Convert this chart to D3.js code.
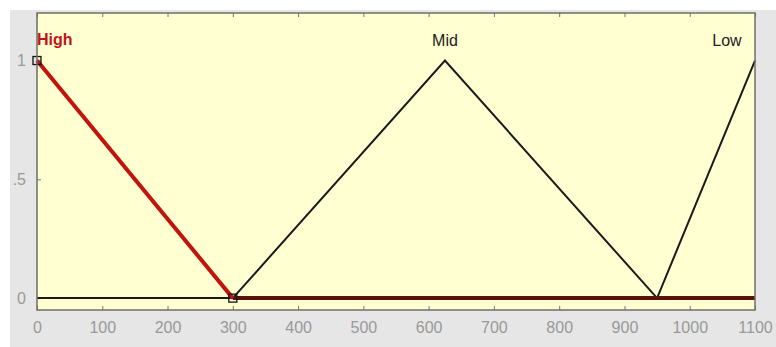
<!DOCTYPE html>
<html>
<head>
<meta charset="utf-8">
<script src="https://cdn.jsdelivr.net/npm/d3@7"></script>
<style>
  body { margin: 0; background: #fff; }
  svg { display: block; font-family: "Liberation Sans", Arial, sans-serif; }
</style>
</head>
<body>
<div id="chart"></div>
<script>
// membership functions (x, degree)
const mfNames = ['High', 'Mid', 'Low'];
const highPts = [[0, 1], [300, 0], [1100, 0]];
const midPts = [[0, 0], [300, 0], [625, 1], [950, 0], [1100, 0]];
const lowPts = [[0, 0], [950, 0], [1100, 1]];
const xTicks = [0, 100, 200, 300, 400, 500, 600, 700, 800, 900, 1000, 1100];
const yTicks = [0, 0.5, 1];
const yTickLabels = ['0', '.5', '1'];
const handlePts = [[0, 1], [300, 0]];

const dims = { width: 776, height: 347, margin: { top: 13, right: 21, bottom: 37, left: 37 } };
dims.ctrWidth = dims.width - dims.margin.left - dims.margin.right;
dims.ctrHeight = dims.height - dims.margin.top - dims.margin.bottom;

const svg = d3.select('#chart').append('svg')
  .attr('width', dims.width)
  .attr('height', dims.height);

// grey figure background
svg.append('rect')
  .attr('x', 10).attr('y', 10)
  .attr('width', dims.width - 10).attr('height', dims.height - 10)
  .attr('fill', '#e6e6e6');

const ctr = svg.append('g')
  .attr('transform', `translate(${dims.margin.left},${dims.margin.top})`);

const xScale = d3.scaleLinear().domain([0, 1100]).range([0, dims.ctrWidth]);
const yScale = d3.scaleLinear().domain([-0.05, 1.2]).range([dims.ctrHeight, 0]);

ctr.append('rect')
  .attr('width', dims.ctrWidth).attr('height', dims.ctrHeight)
  .attr('fill', '#ffffd2');

// axes: ticks inside, labels outside
const xAxis = d3.axisBottom(xScale).tickValues(xTicks).tickSize(-4).tickPadding(12).tickFormat(d3.format('d'));
const xAxisTop = d3.axisTop(xScale).tickValues(xTicks).tickSize(-4).tickFormat('');
const yAxis = d3.axisLeft(yScale).tickValues(yTicks).tickSize(-4).tickPadding(11)
  .tickFormat((d, i) => yTickLabels[i]);

const gx = ctr.append('g').attr('transform', `translate(0,${dims.ctrHeight})`).call(xAxis);
const gxt = ctr.append('g').call(xAxisTop);
const gy = ctr.append('g').call(yAxis);
[gx, gxt, gy].forEach(g => {
  g.select('.domain').remove();
  g.selectAll('line').attr('stroke', '#777');
  g.selectAll('text').attr('fill', '#999').style('font-size', '16px');
});

const line = d3.line().x(d => xScale(d[0])).y(d => yScale(d[1]));

ctr.append('path').datum(midPts).attr('d', line)
  .attr('fill', 'none').attr('stroke', '#1a1a1a').attr('stroke-width', 2);
ctr.append('path').datum(lowPts).attr('d', line)
  .attr('fill', 'none').attr('stroke', '#1a1a1a').attr('stroke-width', 2);
// selected function drawn thick red, its zero part darker
ctr.append('path').datum(highPts.slice(1)).attr('d', line)
  .attr('fill', 'none').attr('stroke', '#5a1208').attr('stroke-width', 4);
ctr.append('path').datum(highPts.slice(0, 2)).attr('d', line)
  .attr('fill', 'none').attr('stroke', '#c0140c').attr('stroke-width', 4);

ctr.selectAll('.handle').data(handlePts).join('rect')
  .attr('class', 'handle')
  .attr('x', d => xScale(d[0]) - 4).attr('y', d => yScale(d[1]) - 4)
  .attr('width', 8).attr('height', 8)
  .attr('fill', 'none').attr('stroke', '#111').attr('stroke-width', 1.3);

// plot frame
ctr.append('rect')
  .attr('width', dims.ctrWidth).attr('height', dims.ctrHeight)
  .attr('fill', 'none').attr('stroke', '#6e6e6e').attr('stroke-width', 1.5);

// mf names
const labelPos = [[0, 'start'], [625, 'middle'], [1057, 'middle']];
ctr.selectAll('.mf-label').data(mfNames).join('text')
  .attr('class', 'mf-label')
  .attr('x', (d, i) => xScale(labelPos[i][0]))
  .attr('y', (d, i) => yScale(i === 0 ? 1.065 : 1.06))
  .attr('text-anchor', (d, i) => labelPos[i][1])
  .attr('fill', (d, i) => i === 0 ? '#c0141c' : '#222')
  .attr('font-weight', (d, i) => i === 0 ? 'bold' : 'normal')
  .style('font-size', '16px')
  .text(d => d);
</script>
</body>
</html>
